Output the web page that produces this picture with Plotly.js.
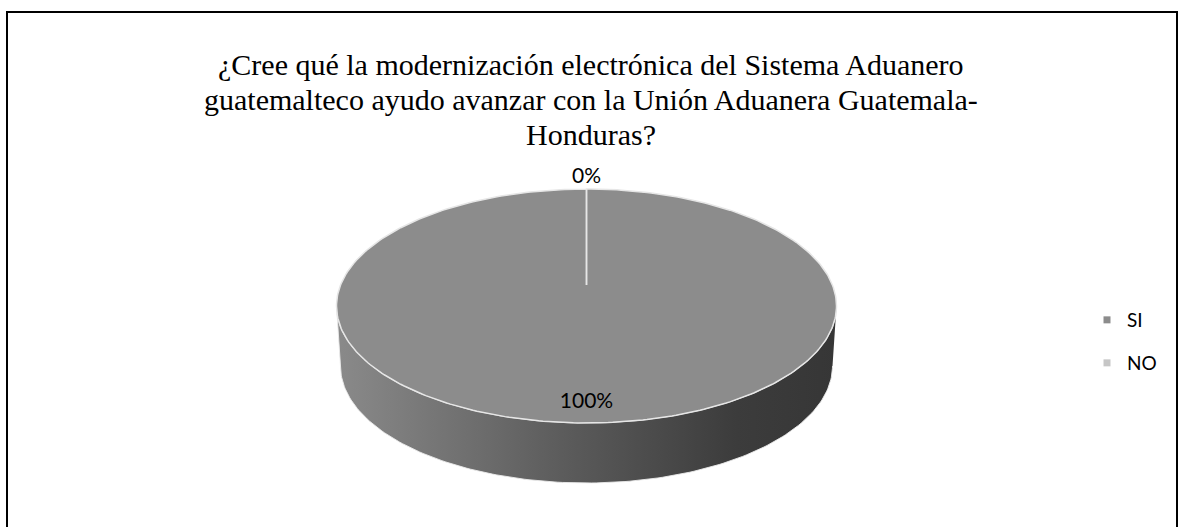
<!DOCTYPE html>
<html>
<head>
<meta charset="utf-8">
<script src="https://cdn.plot.ly/plotly-3.0.1.min.js"></script>
<style>
html,body{margin:0;padding:0;background:#ffffff;}
#chart{width:1181px;height:527px;}
</style>
</head>
<body>
<div id="chart"></div>
<script>
// ---- data ----
const titleLines = [
  "¿Cree qué la modernización electrónica del Sistema Aduanero",
  "guatemalteco ayudo avanzar con la Unión Aduanera Guatemala-",
  "Honduras?"
];
const categories = ["SI", "NO"];
const values = [100, 0];
const sliceColors = ["#8c8c8c", "#c6c6c6"];

// ---- geometry (pixel space of the plot) ----
const W = 1181, H = 527;
const topFace = {cx: 586.5, cy: 306, rx: 250, ry: 117};   // top face ellipse
const pieCenterY = 285;                                     // projected pie centre
const bottomFace = {cx: 586.5, cy: 366, rx: 246, ry: 117};  // bottom face ellipse

function pt(e, a, k) {
  k = (k === undefined) ? 1 : k;
  return [e.cx + k * e.rx * Math.sin(a), e.cy - k * e.ry * Math.cos(a)];
}

const traces = [];

// side wall (front half)
(function () {
  const xs = [], ys = [];
  const N = 160;
  for (let i = 0; i <= N; i++) {
    const a = Math.PI / 2 + Math.PI * i / N;
    const p = pt(topFace, a); xs.push(p[0]); ys.push(p[1]);
  }
  for (let i = N; i >= 0; i--) {
    const a = Math.PI / 2 + Math.PI * i / N;
    const p = pt(bottomFace, a); xs.push(p[0]); ys.push(p[1]);
  }
  traces.push({
    type: 'scatter', mode: 'lines', x: xs, y: ys, fill: 'toself',
    line: {color: 'rgba(235,235,235,0.9)', width: 1},
    fillgradient: {type: 'horizontal', colorscale: [[0, '#8a8a8a'], [0.45, '#5c5c5c'], [0.8, '#3c3c3c'], [1, '#363636']]},
    hoverinfo: 'skip', showlegend: false
  });
})();

// top face slices
const total = values.reduce((s, v) => s + v, 0);
let cum = 0;
const labelX = [], labelY = [], labelT = [];
values.forEach((v, i) => {
  const a0 = cum / total * 2 * Math.PI;
  const a1 = (cum + v) / total * 2 * Math.PI;
  const xs = [topFace.cx], ys = [pieCenterY];
  const n = Math.max(2, Math.ceil((a1 - a0) / (2 * Math.PI) * 360));
  for (let j = 0; j <= n; j++) {
    const a = a0 + (a1 - a0) * j / n;
    const p = pt(topFace, a); xs.push(p[0]); ys.push(p[1]);
  }
  xs.push(topFace.cx); ys.push(pieCenterY);
  traces.push({
    type: 'scatter', mode: 'lines', x: xs, y: ys, fill: 'toself',
    fillcolor: sliceColors[i], line: {color: '#e6e6e6', width: 1.5},
    name: categories[i], hoverinfo: 'skip', showlegend: false
  });
  const frac = v / total;
  const am = (a0 + a1) / 2;
  const lp = pt(topFace, am, frac > 0.05 ? 0.83 : 1.095);
  labelX.push(lp[0]); labelY.push(lp[1]);
  labelT.push(Math.round(frac * 100) + '%');
  cum += v;
});

// data labels
traces.push({
  type: 'scatter', mode: 'text', x: labelX, y: labelY, text: labelT,
  textposition: 'middle center',
  textfont: {family: 'Lato, sans-serif', size: 21, color: '#000000'},
  hoverinfo: 'skip', showlegend: false
});

// legend entries
categories.forEach((c, i) => {
  traces.push({
    type: 'scatter', mode: 'markers', x: [null], y: [null], name: c,
    marker: {symbol: 'square', size: 7, color: sliceColors[i]},
    legend: i === 0 ? 'legend' : 'legend2', showlegend: true
  });
});

const legendStyle = {
  font: {family: 'Lato, sans-serif', size: 19, color: '#000000'},
  bgcolor: 'rgba(0,0,0,0)', borderwidth: 0, xanchor: 'left', yanchor: 'middle',
  itemclick: false, itemdoubleclick: false
};

const titleY = [64, 99, 134];

const layout = {
  width: W, height: H,
  margin: {l: 0, r: 0, t: 0, b: 0, pad: 0},
  paper_bgcolor: '#ffffff', plot_bgcolor: '#ffffff',
  showlegend: true,
  xaxis: {range: [0, W], visible: false, fixedrange: true},
  yaxis: {range: [H, 0], visible: false, fixedrange: true},
  legend: Object.assign({}, legendStyle, {x: 1087 / W, y: 1 - 320 / H}),
  legend2: Object.assign({}, legendStyle, {x: 1087 / W, y: 1 - 363 / H}),
  annotations: titleLines.map((t, i) => ({
    xref: 'paper', yref: 'paper', x: 591 / W, y: 1 - titleY[i] / H,
    xanchor: 'center', yanchor: 'middle', showarrow: false,
    text: t,
    font: {family: '"Liberation Serif", "Times New Roman", serif', size: 30, color: '#000000'}
  })),
  shapes: [{
    type: 'rect', xref: 'paper', yref: 'paper',
    x0: 7 / W, x1: 1177 / W, y0: -0.05, y1: 1 - 12 / H,
    line: {color: '#000000', width: 2}, fillcolor: 'rgba(0,0,0,0)'
  }]
};

Plotly.newPlot('chart', traces, layout, {staticPlot: true, displayModeBar: false});
</script>
</body>
</html>
